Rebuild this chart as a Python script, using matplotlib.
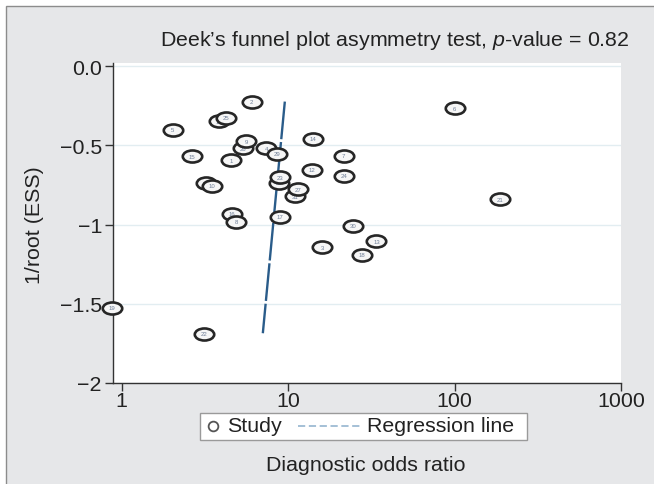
import numpy as np
import matplotlib
matplotlib.use("Agg")
import matplotlib.pyplot as plt
from matplotlib.path import Path
from matplotlib.patches import Rectangle
from matplotlib.lines import Line2D
from matplotlib.transforms import Affine2D

plt.rcParams['font.family'] = ['Liberation Sans', 'DejaVu Sans']
plt.rcParams['mathtext.fontset'] = 'custom'
plt.rcParams['mathtext.rm'] = 'Liberation Sans'
plt.rcParams['mathtext.it'] = 'Liberation Sans:italic'

# study data, drawn in this order so overlaps match
study_ids = ['11', '25', '2', '5', '26', '9', '4', '29', '15', '1', '28', '23',
             '31', '27', '20', '10', '16', '8', '17', '14', '7', '12', '24',
             '30', '13', '3', '18', '6', '21', '19', '22']
dor = [3.84, 4.27, 6.04, 2.03, 5.38, 5.63, 7.40, 8.61, 2.66, 4.53, 8.81, 8.93,
       11.09, 11.45, 3.20, 3.51, 4.62, 4.89, 8.93, 14.17, 21.6, 13.97, 21.8,
       24.5, 34.0, 16.05, 27.7, 100.4, 188.9, 0.88, 3.12]
inv_root_ess = [-0.350, -0.325, -0.225, -0.403, -0.518, -0.474, -0.518, -0.555,
                -0.568, -0.596, -0.736, -0.703, -0.822, -0.778, -0.740, -0.757,
                -0.931, -0.983, -0.952, -0.459, -0.566, -0.654, -0.692, -1.008,
                -1.107, -1.145, -1.191, -0.266, -0.841, -1.526, -1.690]

# regression line end points
reg_x = [9.57, 7.06]
reg_y = [-0.2245, -1.686]

y_ticks = [0, -0.5, -1, -1.5, -2]
y_ticklabels = ['0.0', '\u22120.5', '\u22121', '\u22121.5', '\u22122']
x_ticks = [1, 10, 100, 1000]
x_ticklabels = ['1', '10', '100', '1000']

FS = 15.4
TXT = '#222222'
W, H = 654, 485
fig = plt.figure(figsize=(W / 100, H / 100), dpi=100, facecolor='white')
fig.patches.append(Rectangle((6 / W, -0.01), 1.0, 1 - 7 / H + 0.01, transform=fig.transFigure,
                             facecolor='#e6e7e9', edgecolor='#8c8c8c', linewidth=1.0, zorder=-10))

ax = fig.add_axes([113 / W, 101 / H, 508 / W, 320 / H])
ax.set_facecolor('white')
ax.set_xscale('log')
ax.set_xlim(0.889, 1000)
ax.set_ylim(-2, 0.019)

# ellipse marker
ell = Path.unit_circle().transformed(Affine2D().scale(1.0, 0.62))

ax.plot(reg_x, reg_y, color='#2a5c8a', lw=1.7, linestyle=(0, (16, 1.2)), zorder=2)

for i, (lab, x, y) in enumerate(zip(study_ids, dor, inv_root_ess)):
    z = 3 + i * 0.01
    ax.plot(x, y, marker=ell, markersize=14, markerfacecolor='#f6f6f6',
            markeredgecolor='#262626', markeredgewidth=1.9, linestyle='none',
            zorder=z, clip_on=False)
    ax.text(x, y, lab, fontsize=4.3, color='#6f7f98', ha='center', va='center',
            zorder=z + 0.001)

ax.set_yticks(y_ticks)
ax.set_yticklabels(y_ticklabels)
ax.set_xticks(x_ticks)
ax.set_xticklabels(x_ticklabels)
ax.xaxis.set_minor_locator(matplotlib.ticker.NullLocator())
ax.tick_params(axis='both', which='major', direction='out', length=6, width=1.0,
               color='#333333', labelsize=FS, labelcolor=TXT, pad=2)
ax.tick_params(axis='x', pad=0)
ax.grid(axis='y', color='#e2edf1', linewidth=1.0)
ax.grid(axis='x', visible=False)
ax.set_axisbelow(True)
for s in ['top', 'right']:
    ax.spines[s].set_visible(False)
for s in ['left', 'bottom']:
    ax.spines[s].set_color('#333333')
    ax.spines[s].set_linewidth(1.0)

fig.text(630 / W, 1 - 40 / H, "Deek\u2019s funnel plot asymmetry test, $p$-value = 0.82",
         ha='right', va='center', fontsize=FS, color=TXT)
fig.text(34 / W, 1 - 225 / H, "1/root (ESS)", rotation=90, ha='center', va='center',
         fontsize=FS, color=TXT)
fig.text(366 / W, 1 - 466 / H, "Diagnostic odds ratio", ha='center', va='center',
         fontsize=FS, color=TXT)

# legend box built by hand to match the spacing
fig.patches.append(Rectangle((200 / W, 1 - 441 / H), 327 / W, 27 / H, transform=fig.transFigure,
                             facecolor='white', edgecolor='#9a9a9a', linewidth=1.0, zorder=5))
ly = 1 - 427 / H
fig.lines.append(Line2D([213 / W], [ly], transform=fig.transFigure, marker='o', markersize=7,
                        markerfacecolor='white', markeredgecolor='#555555',
                        markeredgewidth=1.3, linestyle='none', zorder=6))
fig.text(227 / W, ly, "Study", ha='left', va='center', fontsize=FS, color=TXT, zorder=6)
fig.lines.append(Line2D([298 / W, 361 / W], [ly, ly], transform=fig.transFigure,
                        color='#9dbbd3', lw=1.3, linestyle=(0, (4, 2)), zorder=6))
fig.text(367 / W, ly, "Regression line", ha='left', va='center', fontsize=FS, color=TXT,
         zorder=6)

fig.savefig('out.png', dpi=100, facecolor=fig.get_facecolor())
